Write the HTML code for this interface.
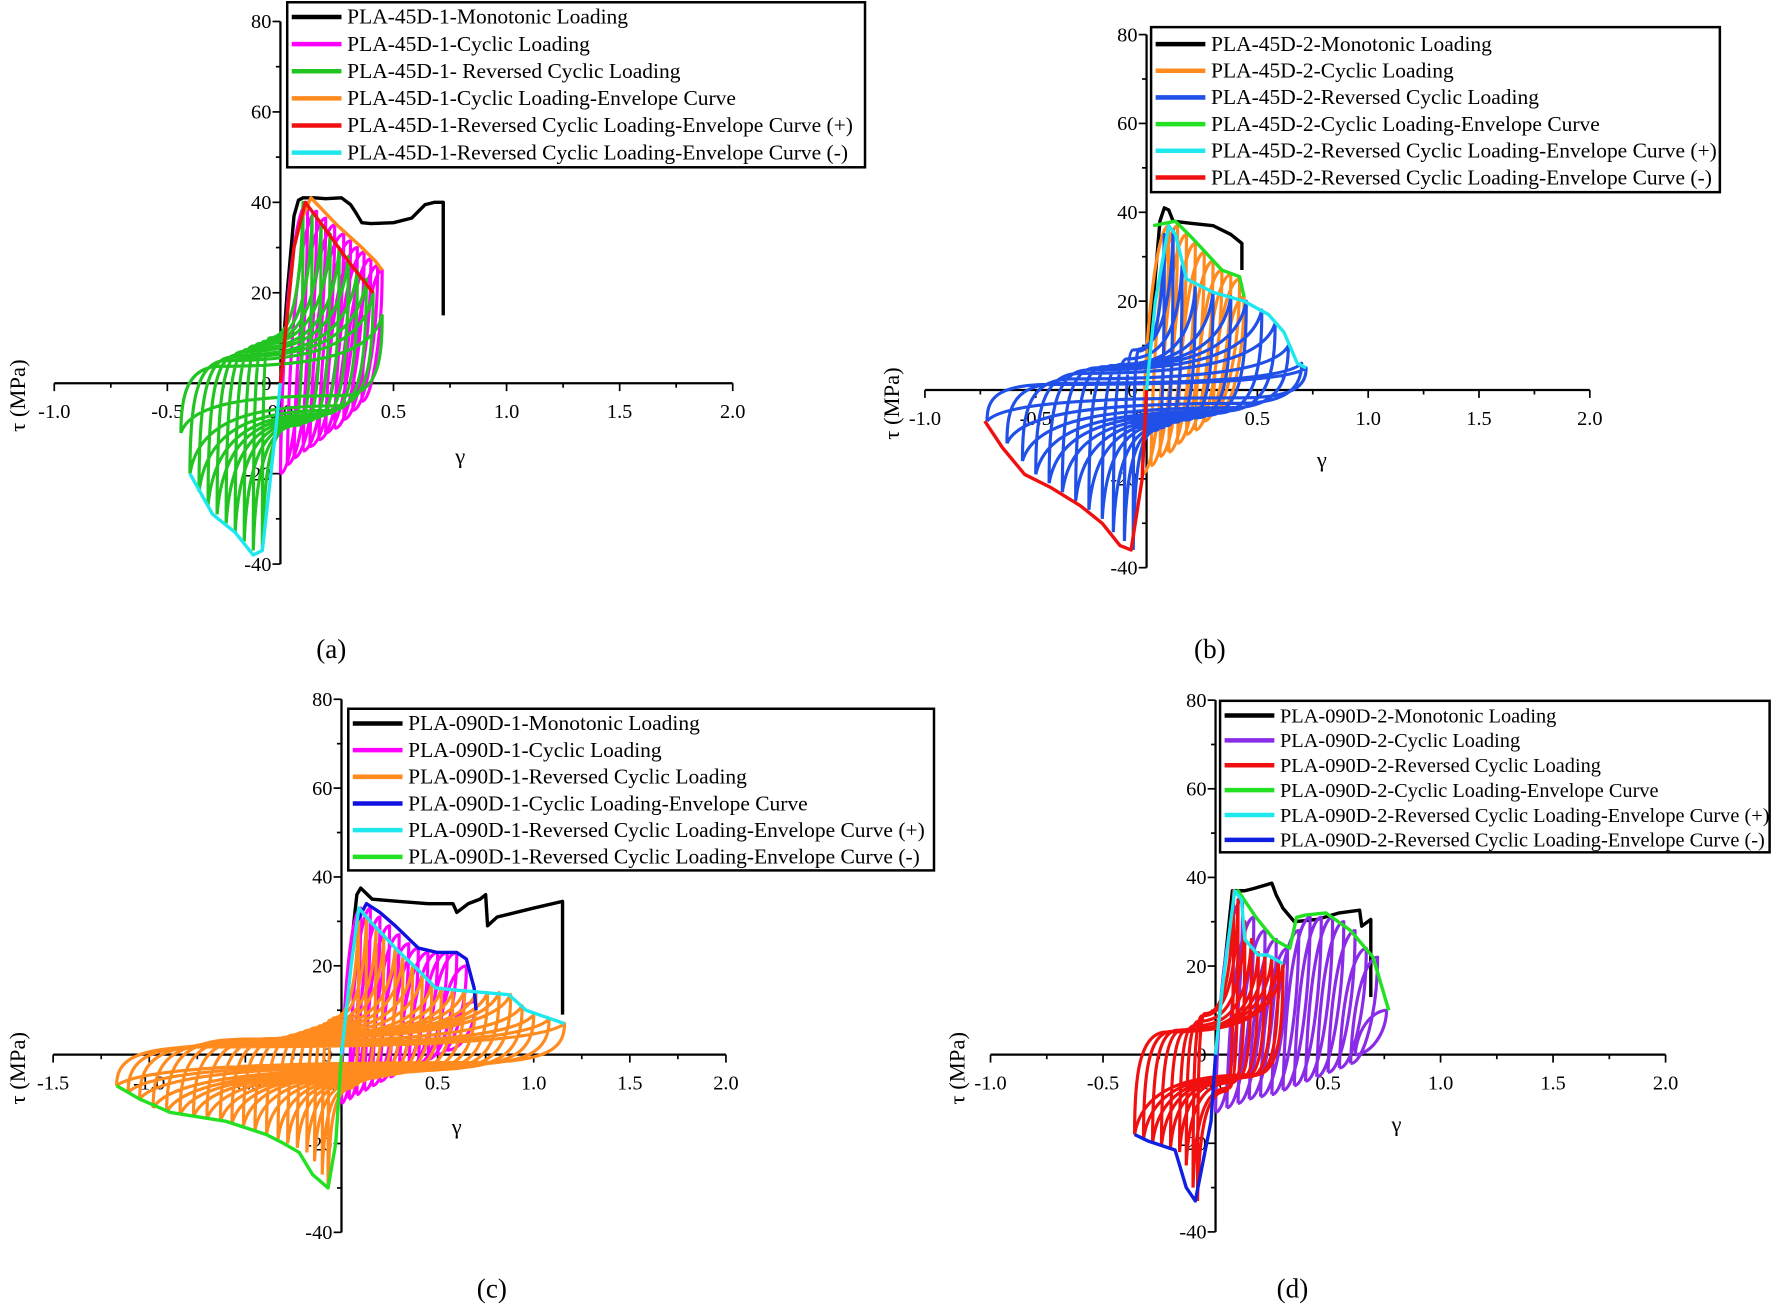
<!DOCTYPE html>
<html><head><meta charset="utf-8"><style>
html,body{margin:0;padding:0;background:#fff;}
svg{display:block;font-family:"Liberation Serif",serif;}
</style></head>
<body>
<svg id="fig" width="1773" height="1309" viewBox="0 0 1568 1158" preserveAspectRatio="none" xmlns="http://www.w3.org/2000/svg"></svg>
<script>
// ---------- Panel (a) data ----------
const aMonoG=[0,0.03,0.06,0.08,0.1,0.15,0.2,0.27,0.31,0.33,0.36,0.4,0.5,0.58,0.64,0.68,0.72,0.72];
const aMonoT=[0,20,37,40.5,41,41,40.8,41,39.5,38,35.5,35.3,35.5,36.5,39.5,40,40,15];
const aCycGmax=[0.12,0.16,0.2,0.24,0.28,0.31,0.34,0.37,0.4,0.43,0.45];
const aCycTmax=[40,38,36.5,35,33,31.5,30,29,27.5,26,25];
const aCycGmin=[0.0,0.03,0.06,0.1,0.13,0.17,0.2,0.24,0.28,0.32,0.36];
const aCycTmin=[-20,-18,-16.5,-15,-14,-12.5,-11,-10,-8,-6,-4];
const aRevGp=[0.1,0.14,0.18,0.22,0.26,0.3,0.34,0.38,0.41,0.45];
const aRevTp=[40,37,35,33,30,28,25,23,20,15];
const aRevGn=[-0.08,-0.12,-0.16,-0.2,-0.24,-0.28,-0.32,-0.36,-0.4,-0.44];
const aRevTn=[-37,-37,-35,-33,-31,-29,-27,-24,-20,-11];
const aEnvCycG=[0.1,0.135,0.25,0.36,0.42,0.45];
const aEnvCycT=[37,41,35,30,27,25];
const aEnvPG=[0,0.06,0.11,0.2,0.3,0.41];
const aEnvPT=[0,30,40,34,27,20];
const aEnvNG=[0,-0.02,-0.08,-0.12,-0.2,-0.3,-0.4];
const aEnvNT=[0,-10,-37,-38,-33,-29,-20];
// ---------- Panel (b) data ----------
const bMonoG=[0,0.03,0.06,0.08,0.1,0.12,0.2,0.3,0.38,0.43,0.43];
const bMonoT=[0,20,38,41,40.5,38,37.5,37,35,33,27];
const bCycGmax=[0.1,0.14,0.18,0.22,0.26,0.3,0.34,0.38,0.42,0.44];
const bCycTmax=[37,37,35,33,31,29,27,26,25,21];
const bCycGmin=[-0.02,0.02,0.06,0.1,0.14,0.18,0.22,0.26,0.3,0.34];
const bCycTmin=[-19,-17,-15,-14,-12,-10,-9,-7,-5,-4];
const bRevGp=[0.08,0.12,0.16,0.22,0.3,0.38,0.45,0.52,0.58,0.64,0.7,0.72];
const bRevTp=[35,36,28,23,22,21,20,18,15,10,6,5];
const bRevGn=[-0.06,-0.1,-0.15,-0.2,-0.26,-0.32,-0.38,-0.44,-0.5,-0.56,-0.63,-0.72];
const bRevTn=[-36,-34,-32,-29,-27,-25,-23,-21,-19,-16,-12,-7];
const bEnvCycG=[0.03,0.13,0.21,0.34,0.42,0.44];
const bEnvCycT=[37,38,34,27,25.5,21];
const bEnvPG=[0,0.04,0.1,0.13,0.18,0.3,0.44,0.55,0.62,0.68,0.72];
const bEnvPT=[0,20,37,35,25,22,20,17,13,6,5];
const bEnvNG=[0,-0.02,-0.07,-0.12,-0.2,-0.3,-0.43,-0.55,-0.65,-0.73];
const bEnvNT=[0,-20,-36,-35,-30,-26,-22,-19,-13,-7];
// ---------- Panel (c) data ----------
const cMonoG=[0,0.04,0.08,0.1,0.16,0.3,0.45,0.58,0.6,0.66,0.72,0.75,0.76,0.81,1.0,1.15,1.15];
const cMonoT=[0,20,36,37.5,35,34.5,34,34,32,34,35,36,29,31,33,34.5,9];
const cCycGmax=[0.1,0.15,0.2,0.25,0.3,0.35,0.4,0.45,0.5,0.55,0.6,0.65,0.7];
const cCycTmax=[33,33,31,29,27,25,24,23,23,23,23,20,12];
const cCycGmin=[0.0,0.04,0.08,0.12,0.16,0.2,0.25,0.3,0.35,0.4,0.45,0.5,0.55];
const cCycTmin=[-11,-10,-9,-8,-7,-6,-5,-4,-3,-2,-1,0,1];
const cRevGp=[0.09,0.13,0.18,0.22,0.28,0.32,0.37,0.42,0.47,0.52,0.58,0.64,0.7,0.76,0.82,0.88,0.94,1.0,1.08,1.16];
const cRevTp=[33,31,28,26,24,22,20,18,16,15,14.5,14.5,14,14,14,13.5,11,9,8,7];
const cRevGn=[-0.07,-0.1,-0.14,-0.18,-0.23,-0.28,-0.33,-0.39,-0.45,-0.51,-0.57,-0.63,-0.7,-0.77,-0.84,-0.91,-0.98,-1.05,-1.11,-1.17];
const cRevTn=[-30,-27,-24,-22,-21,-20,-19,-18,-17,-16,-15.5,-15,-14.5,-14,-13.5,-13,-12,-10,-8.5,-7];
const cEnvCycG=[0.08,0.13,0.2,0.28,0.4,0.5,0.6,0.65,0.69,0.7];
const cEnvCycT=[30,34,32,29,24,23,23,21.5,15,10];
const cEnvPG=[0,0.05,0.09,0.15,0.28,0.4,0.49,0.6,0.87,0.96,1.16];
const cEnvPT=[0,20,33,30,24,19,15,14.5,13.5,10,7];
const cEnvNG=[0,-0.03,-0.07,-0.15,-0.22,-0.3,-0.39,-0.6,-0.89,-1.05,-1.17];
const cEnvNT=[0,-20,-30,-27,-22,-20,-18,-15,-13,-10,-7];
// ---------- Panel (d) data ----------
const dMonoG=[0,0.04,0.075,0.13,0.17,0.25,0.27,0.3,0.35,0.45,0.55,0.64,0.65,0.69,0.69];
const dMonoT=[0,20,37,37,37.5,38.7,36,33,30,30.5,32,32.6,29,30.5,13];
const dCycGmax=[0.12,0.17,0.22,0.27,0.32,0.37,0.42,0.47,0.52,0.57,0.62,0.67,0.72,0.76];
const dCycTmax=[35,31,28,26,24,28,31,31,31,30,28,24,22,10];
const dCycGmin=[0.0,0.05,0.1,0.15,0.2,0.25,0.3,0.35,0.4,0.45,0.5,0.55,0.6,0.62];
const dCycTmin=[-13,-12,-11,-10,-9.5,-9,-8,-7,-6,-5,-4,-3,-2,0];
const dRevGp=[0.08,0.1,0.13,0.16,0.19,0.22,0.25,0.28,0.3];
const dRevTp=[37,35,30,26,23,22.5,22,21,20.5];
const dRevGn=[-0.08,-0.1,-0.13,-0.16,-0.2,-0.24,-0.28,-0.32,-0.36];
const dRevTn=[-33,-30,-25,-22,-21,-20.5,-20,-19,-18];
const dEnvCycG=[0.08,0.1,0.18,0.26,0.33,0.36,0.4,0.49,0.6,0.7,0.77];
const dEnvCycT=[36,37,31,26,24,31,31.5,32,28,22,10];
const dEnvPG=[0,0.03,0.085,0.115,0.13,0.19,0.23,0.3];
const dEnvPT=[0,15,37,35,26,22.5,22.5,20.5];
const dEnvNG=[0,-0.02,-0.09,-0.13,-0.18,-0.3,-0.36];
const dEnvNT=[0,-15,-33,-30,-21.5,-19.5,-18];
// ---------- tick labels ----------
const yTicks=[-40,-20,0,20,40,60,80];
const xTicksA=[-1.0,-0.5,0.0,0.5,1.0,1.5,2.0];
const xTicksC=[-1.5,-1.0,-0.5,0.0,0.5,1.0,1.5,2.0];

const NS="http://www.w3.org/2000/svg";
const svg=document.getElementById('fig');
function mk(tag,attrs,parent){const e=document.createElementNS(NS,tag);for(const k in attrs)e.setAttribute(k,attrs[k]);(parent||svg).appendChild(e);return e;}

function panel(cfg){
  const g=mk('g',{});
  
  
  const X=v=>cfg.x0+v*cfg.xs, Y=v=>cfg.y0-v*cfg.ys;
  const ya=mk('line',{x1:X(0),x2:X(0),y1:Y(-40),y2:Y(80),stroke:'#000','stroke-width':2},g);
  
  
  const xa=mk('line',{x1:X(cfg.xt[0]),x2:X(cfg.xt[cfg.xt.length-1]),y1:Y(0),y2:Y(0),stroke:'#000','stroke-width':2},g);
  
  
  for(let v=-40;v<=80;v+=10){
    const maj=v%20===0;
    mk('line',{x1:X(0)-(maj?7:4),x2:X(0),y1:Y(v),y2:Y(v),stroke:'#000','stroke-width':1.5},g);
  }
  yTicks.forEach(v=>{
    const t=mk('text',{x:X(0)-8,y:Y(v)+6,'text-anchor':'end','font-size':18},g);
    
    
    t.textContent=String(v);
  });
  const x0=cfg.xt[0],x1=cfg.xt[cfg.xt.length-1];
  for(let v=x0;v<=x1+1e-9;v+=0.25){
    const maj=Math.abs(v*2-Math.round(v*2))<1e-6;
    mk('line',{x1:X(v),x2:X(v),y1:Y(0),y2:Y(0)+(maj?7:4),stroke:'#000','stroke-width':1.5},g);
  }
  cfg.xt.forEach(v=>{
    const t=mk('text',{x:X(v),y:Y(0)+31,'text-anchor':'middle','font-size':18},g);
    
    
    t.textContent=v.toFixed(1);
  });
  const xt=mk('text',{x:cfg.gx,y:cfg.gy,'text-anchor':'middle','font-size':20},g);
  
  
  xt.textContent='γ';
  const yt=mk('text',{x:0,y:0,'text-anchor':'middle','font-size':20,transform:`translate(${cfg.tx},${cfg.ty}) rotate(-90)`},g);
  
  
  yt.textContent='τ (MPa)';
  const pl=mk('text',{x:cfg.lx,y:cfg.ly,'text-anchor':'middle','font-size':24},g);
  
  
  pl.textContent=cfg.label;

  const P=(gg,tt)=>X(gg).toFixed(1)+','+Y(tt).toFixed(1);
  function line(G,T,color,name){
    const d='M'+G.map((v,i)=>P(v,T[i])).join(' L');
    const e=mk('path',{d:d,fill:'none',stroke:color,'stroke-width':3,'stroke-linejoin':'round'},g);
    
    
  }
  function cyc(Gx,Tx,Gn,Tn,color,name){
    let d='';
    Gx.forEach((g2,i)=>{
      const g1=Gn[i],t1=Tn[i],t2=Tx[i],dg=g2-g1,dt=t2-t1;
      d+='M'+P(g1,t1)+' C'+P(g1+0.1*dg,t1+0.7*dt)+' '+P(g2-0.35*dg,t2)+' '+P(g2,t2)+
         ' C'+P(g2,t2-0.5*dt)+' '+P(g1+0.5*dg,t1)+' '+P(g1,t1)+' ';
    });
    const e=mk('path',{d:d,fill:'none',stroke:color,'stroke-width':2.8,'stroke-linejoin':'round'},g);
    
    
  }
  function rev(Gp,Tp,Gn,Tn,color,name){
    let d='';
    Gp.forEach((gp,i)=>{
      const tp=Tp[i],gn=Gn[i],tn=Tn[i];
      d+='M'+P(gn,tn)+' C'+P(gn,tn*0.3)+' '+P(gn*0.95,0.25*tp)+' '+P(gn*0.6,0.25*tp)+
         ' C'+P(gp*0.3,0.25*tp)+' '+P(gp*0.9,tp*0.4)+' '+P(gp,tp)+
         ' C'+P(gp,tp*0.3)+' '+P(gp*0.95,0.25*tn)+' '+P(gp*0.6,0.25*tn)+
         ' C'+P(gn*0.3,0.25*tn)+' '+P(gn*0.9,tn*0.4)+' '+P(gn,tn)+' ';
    });
    const e=mk('path',{d:d,fill:'none',stroke:color,'stroke-width':2.8,'stroke-linejoin':'round'},g);
    
    
  }
  const s=cfg.series;
  line(s.monoG,s.monoT,s.col[0],'monotonic-curve');
  if(cfg.revFirst){
    rev(s.rGp,s.rTp,s.rGn,s.rTn,s.col[2],'reversed-cyclic-loops');
    cyc(s.cGx,s.cTx,s.cGn,s.cTn,s.col[1],'cyclic-loops');
  } else {
    cyc(s.cGx,s.cTx,s.cGn,s.cTn,s.col[1],'cyclic-loops');
    rev(s.rGp,s.rTp,s.rGn,s.rTn,s.col[2],'reversed-cyclic-loops');
  }
  line(s.eCG,s.eCT,s.col[3],'cyclic-envelope-curve');
  line(s.ePG,s.ePT,s.col[4],'reversed-envelope-positive');
  line(s.eNG,s.eNT,s.col[5],'reversed-envelope-negative');
  const L=cfg.leg;
  const lg=mk('g',{},g);
  
  
  mk('rect',{x:L.x,y:L.y,width:L.w,height:L.h,fill:'#fff',stroke:'#000','stroke-width':2.2},lg);
  cfg.names.forEach((nm,i)=>{
    const yy=L.y+L.r0+i*L.dy;
    const ln=mk('line',{x1:L.x+4,x2:L.x+48,y1:yy,y2:yy,stroke:s.col[i],'stroke-width':4},lg);
    
    
    const t=mk('text',{x:L.x+53,y:yy+6,'font-size':L.fs},lg);
    
    
    t.textContent=nm;
  });
}

panel({name:'panel-a',label:'(a)',x0:248,xs:200,y0:339,ys:4,xt:xTicksA,gx:407,gy:410,tx:22,ty:350,lx:293,ly:582,
  leg:{x:254,y:2,w:511,h:146,r0:13,dy:24,fs:19},
  names:['PLA-45D-1-Monotonic Loading','PLA-45D-1-Cyclic Loading','PLA-45D-1- Reversed Cyclic Loading','PLA-45D-1-Cyclic Loading-Envelope Curve','PLA-45D-1-Reversed Cyclic Loading-Envelope Curve (+)','PLA-45D-1-Reversed Cyclic Loading-Envelope Curve (-)'],
  series:{col:['#000','#f0f','#22c422','#ff8a1e','#f01010','#1ee8ee'],monoG:aMonoG,monoT:aMonoT,cGx:aCycGmax,cTx:aCycTmax,cGn:aCycGmin,cTn:aCycTmin,rGp:aRevGp,rTp:aRevTp,rGn:aRevGn,rTn:aRevTn,eCG:aEnvCycG,eCT:aEnvCycT,ePG:aEnvPG,ePT:aEnvPT,eNG:aEnvNG,eNT:aEnvNT}});
panel({name:'panel-b',label:'(b)',x0:1014,xs:196,y0:345,ys:3.93,xt:xTicksA,gx:1169,gy:413,tx:795,ty:357,lx:1070,ly:582,
  leg:{x:1018,y:24,w:503,h:146,r0:15,dy:23.6,fs:19},
  names:['PLA-45D-2-Monotonic Loading','PLA-45D-2-Cyclic Loading','PLA-45D-2-Reversed Cyclic Loading','PLA-45D-2-Cyclic Loading-Envelope Curve','PLA-45D-2-Reversed Cyclic Loading-Envelope Curve (+)','PLA-45D-2-Reversed Cyclic Loading-Envelope Curve (-)'],
  series:{col:['#000','#ff8a1e','#2050e8','#22e022','#1ee8ee','#f01010'],monoG:bMonoG,monoT:bMonoT,cGx:bCycGmax,cTx:bCycTmax,cGn:bCycGmin,cTn:bCycTmin,rGp:bRevGp,rTp:bRevTp,rGn:bRevGn,rTn:bRevTn,eCG:bEnvCycG,eCT:bEnvCycT,ePG:bEnvPG,ePT:bEnvPT,eNG:bEnvNG,eNT:bEnvNT}});
panel({name:'panel-c',label:'(c)',x0:302,xs:170,y0:933,ys:3.93,xt:xTicksC,gx:404,gy:1003,tx:22,ty:945,lx:435,ly:1148,
  leg:{x:308,y:627,w:518,h:143,r0:13,dy:23.6,fs:19},
  names:['PLA-090D-1-Monotonic Loading','PLA-090D-1-Cyclic Loading','PLA-090D-1-Reversed Cyclic Loading','PLA-090D-1-Cyclic Loading-Envelope Curve','PLA-090D-1-Reversed Cyclic Loading-Envelope Curve (+)','PLA-090D-1-Reversed Cyclic Loading-Envelope Curve (-)'],
  series:{col:['#000','#f0f','#ff8a1e','#1010e0','#1ee8ee','#22e022'],monoG:cMonoG,monoT:cMonoT,cGx:cCycGmax,cTx:cCycTmax,cGn:cCycGmin,cTn:cCycTmin,rGp:cRevGp,rTp:cRevTp,rGn:cRevGn,rTn:cRevTn,eCG:cEnvCycG,eCT:cEnvCycT,ePG:cEnvPG,ePT:cEnvPT,eNG:cEnvNG,eNT:cEnvNT}});
panel({name:'panel-d',label:'(d)',x0:1075,xs:199,y0:933,ys:3.92,xt:xTicksA,gx:1235,gy:1001,tx:853,ty:945,lx:1143,ly:1148,
  leg:{x:1079,y:620,w:486,h:134,r0:13,dy:22,fs:18},
  names:['PLA-090D-2-Monotonic Loading','PLA-090D-2-Cyclic Loading','PLA-090D-2-Reversed Cyclic Loading','PLA-090D-2-Cyclic Loading-Envelope Curve','PLA-090D-2-Reversed Cyclic Loading-Envelope Curve (+)','PLA-090D-2-Reversed Cyclic Loading-Envelope Curve (-)'],
  series:{col:['#000','#8a2be8','#f01010','#22e022','#1ee8ee','#1020e0'],monoG:dMonoG,monoT:dMonoT,cGx:dCycGmax,cTx:dCycTmax,cGn:dCycGmin,cTn:dCycTmin,rGp:dRevGp,rTp:dRevTp,rGn:dRevGn,rTn:dRevTn,eCG:dEnvCycG,eCT:dEnvCycT,ePG:dEnvPG,ePT:dEnvPT,eNG:dEnvNG,eNT:dEnvNT}});
</script>
</body></html>
